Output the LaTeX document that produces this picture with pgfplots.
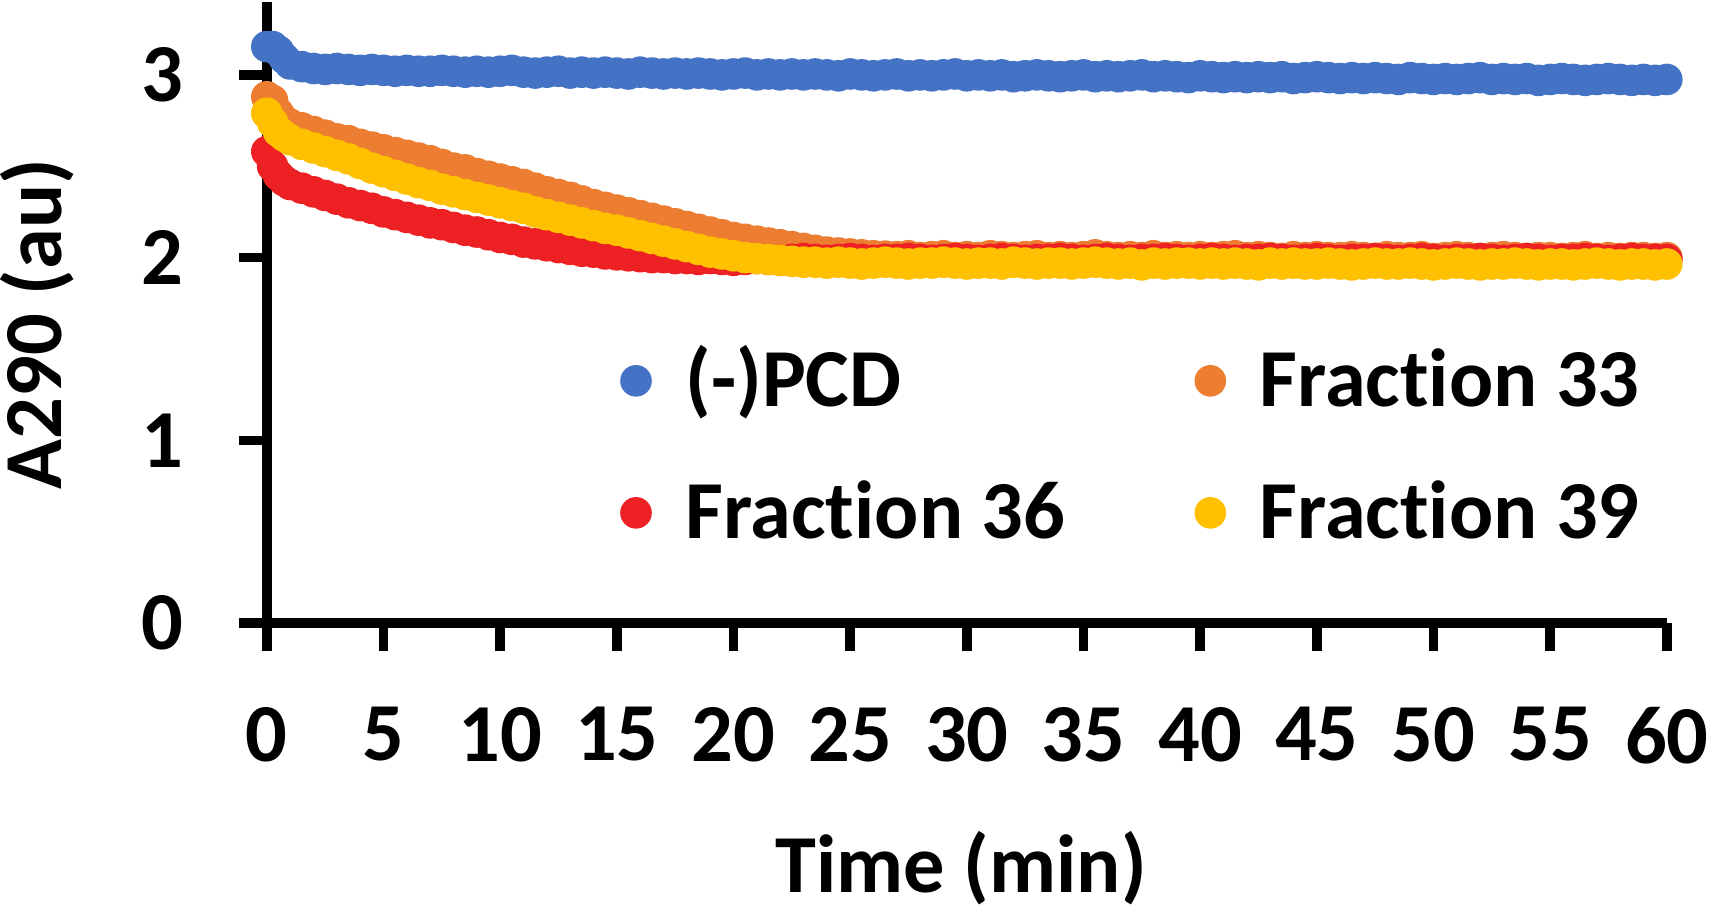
\documentclass[border=0pt]{standalone}
\usepackage{fontspec}
\setmainfont{Carlito}[Ligatures={NoCommon}]
\usepackage{pgfplots}
\pgfplotsset{compat=1.18}
\definecolor{cBlue}{HTML}{4472C4}
\definecolor{cOrange}{HTML}{ED7D31}
\definecolor{cRed}{HTML}{ED2024}
\definecolor{cYellow}{HTML}{FFC000}
\newcommand{\chartfont}{\fontsize{20.6}{24}\selectfont\bfseries}
\begin{document}
\begin{tikzpicture}
\begin{axis}[
  scale only axis,
  width=350pt, height=155.3pt,
  xmin=0, xmax=60, ymin=0, ymax=3.4,
  clip=false,
  axis x line=bottom, axis y line=left,
  axis line style={-, line width=2.6pt, black},
  every tick/.style={line width=2.4pt, black},
  tick align=outside,
  major tick length=7pt,
  xtick={0,5,...,60}, ytick={0,1,2,3},
  minor tick num=0,
  /pgf/number format/assume math mode=true,
  tick label style={font=\chartfont, inner sep=0pt},
  xticklabel style={anchor=north, yshift=-13.8pt},
  yticklabel style={anchor=east, xshift=-13.6pt},
  label style={font=\chartfont},
  xlabel={Time (min)},
  ylabel={A290 (au)},
  xlabel style={at={(axis description cs:0.496,0)}, anchor=base, yshift=-67.25pt, inner sep=0pt},
  ylabel style={at={(axis description cs:-0.1464,0.481)}, anchor=base, inner sep=0pt},
  legend columns=2,
  legend cell align=left,
  legend image code/.code={\draw[#1] plot coordinates {(0pt,0pt)};},
  legend style={draw=none, fill=none, inner sep=0pt, outer sep=0pt,
    at={(axis description cs:0.253,0.4317)}, anchor=north west,
    font=\chartfont,
    nodes={inner sep=0pt, text height=13.0pt, text depth=0pt},
    row sep=20pt,
    /tikz/every odd column/.append style={column sep=8.6pt},
    /tikz/every even column/.append style={column sep=32.5pt}},
  every axis plot/.append style={only marks, mark=*, mark size=3.75pt, mark options={draw=none}},
]
\addplot[color=cBlue] coordinates {
(0,3.155)(0.25,3.155)(0.5,3.13)(0.75,3.09)(1,3.06)(1.5,3.045)(2,3.035)(2.5,3.03)(3,3.035)(3.5,3.03)
(4,3.025)(4.5,3.03)(5,3.025)(5.5,3.02)(6,3.025)(6.5,3.02)(7,3.02)(7.5,3.025)(8,3.02)(8.5,3.015)
(9,3.02)(9.5,3.015)(10,3.02)(10.5,3.025)(11,3.015)(11.5,3.01)(12,3.015)(12.5,3.02)(13,3.01)(13.5,3.015)
(14,3.01)(14.5,3.015)(15,3.01)(15.5,3.005)(16,3.015)(16.5,3.01)(17,3.005)(17.5,3.01)(18,3.005)(18.5,3.01)
(19,3.005)(19.5,3.0)(20,3.005)(20.5,3.01)(21,3.0)(21.5,3.005)(22,3.0)(22.5,3.005)(23,3.0)(23.5,3.005)
(24,3.0)(24.5,2.995)(25,3.005)(25.5,3.0)(26,2.995)(26.5,3.0)(27,3.005)(27.5,2.995)(28,3.0)(28.5,2.995)
(29,3.0)(29.5,3.005)(30,2.995)(30.5,3.0)(31,2.995)(31.5,3.0)(32,2.99)(32.5,2.995)(33,3.0)(33.5,2.995)
(34,2.99)(34.5,2.995)(35,3.0)(35.5,2.99)(36,2.995)(36.5,2.99)(37,2.995)(37.5,3.0)(38,2.99)(38.5,2.995)
(39,2.99)(39.5,2.985)(40,2.995)(40.5,2.99)(41,2.985)(41.5,2.99)(42,2.985)(42.5,2.99)(43,2.985)(43.5,2.99)
(44,2.98)(44.5,2.985)(45,2.99)(45.5,2.985)(46,2.98)(46.5,2.985)(47,2.98)(47.5,2.985)(48,2.98)(48.5,2.975)
(49,2.985)(49.5,2.98)(50,2.975)(50.5,2.98)(51,2.975)(51.5,2.98)(52,2.985)(52.5,2.975)(53,2.98)(53.5,2.975)
(54,2.98)(54.5,2.97)(55,2.975)(55.5,2.98)(56,2.975)(56.5,2.97)(57,2.975)(57.5,2.98)(58,2.975)(58.5,2.97)
(59,2.975)(59.5,2.97)(60,2.975)
};
\addlegendentry{(-)PCD}
\addplot[color=cOrange] coordinates {
(0,2.88)(0.25,2.86)(0.5,2.79)(0.75,2.75)(1,2.73)(1.5,2.71)(2,2.69)(2.5,2.67)(3,2.65)(3.5,2.64)
(4,2.62)(4.5,2.605)(5,2.59)(5.5,2.575)(6,2.56)(6.5,2.545)(7,2.53)(7.5,2.51)(8,2.49)(8.5,2.48)
(9,2.46)(9.5,2.445)(10,2.43)(10.5,2.415)(11,2.40)(11.5,2.38)(12,2.36)(12.5,2.345)(13,2.33)(13.5,2.31)
(14,2.29)(14.5,2.275)(15,2.26)(15.5,2.245)(16,2.23)(16.5,2.215)(17,2.20)(17.5,2.185)(18,2.17)(18.5,2.155)
(19,2.14)(19.5,2.125)(20,2.11)(20.5,2.10)(21,2.09)(21.5,2.08)(22,2.07)(22.5,2.06)(23,2.05)(23.5,2.04)
(24,2.03)(24.5,2.025)(25,2.02)(25.5,2.015)(26,2.01)(26.5,2.008)(27,2.005)(27.5,2.01)(28,2.0)(28.5,2.005)
(29,2.01)(29.5,2.0)(30,2.005)(30.5,2.0)(31,2.01)(31.5,2.005)(32,2.0)(32.5,2.005)(33,2.01)(33.5,2.0)
(34,2.005)(34.5,2.0)(35,2.005)(35.5,2.015)(36,2.005)(36.5,2.0)(37,2.005)(37.5,2.0)(38,2.01)(38.5,2.0)
(39,2.005)(39.5,2.0)(40,2.005)(40.5,2.0)(41,2.005)(41.5,2.01)(42,2.0)(42.5,2.005)(43,2.0)(43.5,1.995)
(44,2.005)(44.5,2.0)(45,2.005)(45.5,2.0)(46,2.0)(46.5,2.005)(47,2.0)(47.5,1.995)(48,2.005)(48.5,2.0)
(49,2.0)(49.5,2.005)(50,1.995)(50.5,2.0)(51,2.005)(51.5,2.0)(52,1.995)(52.5,2.0)(53,2.005)(53.5,2.0)
(54,1.995)(54.5,2.0)(55,2.0)(55.5,1.995)(56,2.0)(56.5,2.005)(57,1.995)(57.5,2.0)(58,1.995)(58.5,2.0)
(59,2.0)(59.5,1.995)(60,2.0)
};
\addlegendentry{Fraction 33}
\addplot[color=cRed] coordinates {
(0,2.58)(0.25,2.50)(0.5,2.45)(0.75,2.42)(1,2.40)(1.5,2.38)(2,2.36)(2.5,2.34)(3,2.32)(3.5,2.30)
(4,2.285)(4.5,2.27)(5,2.25)(5.5,2.235)(6,2.22)(6.5,2.205)(7,2.19)(7.5,2.18)(8,2.165)(8.5,2.15)
(9,2.14)(9.5,2.125)(10,2.11)(10.5,2.10)(11,2.085)(11.5,2.075)(12,2.065)(12.5,2.055)(13,2.045)(13.5,2.035)
(14,2.03)(14.5,2.02)(15,2.015)(15.5,2.01)(16,2.005)(16.5,2.0)(17,2.0)(17.5,1.995)(18,1.995)(18.5,1.99)
(19,1.995)(19.5,1.99)(20,1.985)(20.5,1.99)(21,1.995)(21.5,1.99)(22,1.985)(22.5,1.99)(23,1.995)(23.5,1.99)
(24,1.985)(24.5,1.99)(25,1.995)(25.5,1.99)(26,1.985)(26.5,1.99)(27,1.99)(27.5,1.995)(28,1.99)(28.5,1.985)
(29,1.99)(29.5,1.995)(30,1.99)(30.5,1.985)(31,1.99)(31.5,1.995)(32,1.99)(32.5,1.985)(33,1.99)(33.5,1.99)
(34,1.995)(34.5,1.99)(35,1.985)(35.5,1.99)(36,1.995)(36.5,1.99)(37,1.985)(37.5,1.99)(38,1.99)(38.5,1.995)
(39,1.99)(39.5,1.985)(40,1.99)(40.5,1.995)(41,1.99)(41.5,1.985)(42,1.99)(42.5,1.99)(43,1.995)(43.5,1.99)
(44,1.985)(44.5,1.99)(45,1.995)(45.5,1.99)(46,1.985)(46.5,1.99)(47,1.99)(47.5,1.995)(48,1.99)(48.5,1.985)
(49,1.99)(49.5,1.995)(50,1.99)(50.5,1.985)(51,1.99)(51.5,1.99)(52,1.995)(52.5,1.99)(53,1.985)(53.5,1.99)
(54,1.995)(54.5,1.99)(55,1.985)(55.5,1.99)(56,1.99)(56.5,1.995)(57,1.99)(57.5,1.985)(58,1.99)(58.5,1.995)
(59,1.99)(59.5,1.99)(60,1.99)
};
\addlegendentry{Fraction 36}
\addplot[color=cYellow] coordinates {
(0,2.79)(0.25,2.74)(0.5,2.69)(0.75,2.665)(1,2.645)(1.5,2.62)(2,2.60)(2.5,2.58)(3,2.56)(3.5,2.54)
(4,2.515)(4.5,2.49)(5,2.47)(5.5,2.45)(6,2.43)(6.5,2.41)(7,2.395)(7.5,2.375)(8,2.36)(8.5,2.345)
(9,2.33)(9.5,2.315)(10,2.30)(10.5,2.285)(11,2.27)(11.5,2.25)(12,2.235)(12.5,2.22)(13,2.205)(13.5,2.19)
(14,2.175)(14.5,2.16)(15,2.15)(15.5,2.135)(16,2.12)(16.5,2.105)(17,2.09)(17.5,2.075)(18,2.06)(18.5,2.045)
(19,2.03)(19.5,2.02)(20,2.01)(20.5,2.0)(21,1.995)(21.5,1.99)(22,1.985)(22.5,1.98)(23,1.975)(23.5,1.975)
(24,1.97)(24.5,1.975)(25,1.97)(25.5,1.965)(26,1.97)(26.5,1.975)(27,1.97)(27.5,1.965)(28,1.97)(28.5,1.97)
(29,1.975)(29.5,1.97)(30,1.965)(30.5,1.97)(31,1.97)(31.5,1.965)(32,1.975)(32.5,1.97)(33,1.965)(33.5,1.97)
(34,1.97)(34.5,1.965)(35,1.97)(35.5,1.975)(36,1.97)(36.5,1.965)(37,1.97)(37.5,1.96)(38,1.97)(38.5,1.965)
(39,1.97)(39.5,1.97)(40,1.965)(40.5,1.97)(41,1.965)(41.5,1.97)(42,1.965)(42.5,1.96)(43,1.97)(43.5,1.965)
(44,1.97)(44.5,1.965)(45,1.965)(45.5,1.97)(46,1.965)(46.5,1.96)(47,1.965)(47.5,1.97)(48,1.965)(48.5,1.965)
(49,1.97)(49.5,1.965)(50,1.96)(50.5,1.965)(51,1.97)(51.5,1.965)(52,1.96)(52.5,1.965)(53,1.965)(53.5,1.97)
(54,1.965)(54.5,1.96)(55,1.965)(55.5,1.965)(56,1.96)(56.5,1.965)(57,1.97)(57.5,1.965)(58,1.96)(58.5,1.965)
(59,1.965)(59.5,1.96)(60,1.965)
};
\addlegendentry{Fraction 39}
\end{axis}
\pgfresetboundingbox
\path[use as bounding box] (-66.7pt,-72.25pt) rectangle (361.3pt,155.75pt);
\end{tikzpicture}
\end{document}
